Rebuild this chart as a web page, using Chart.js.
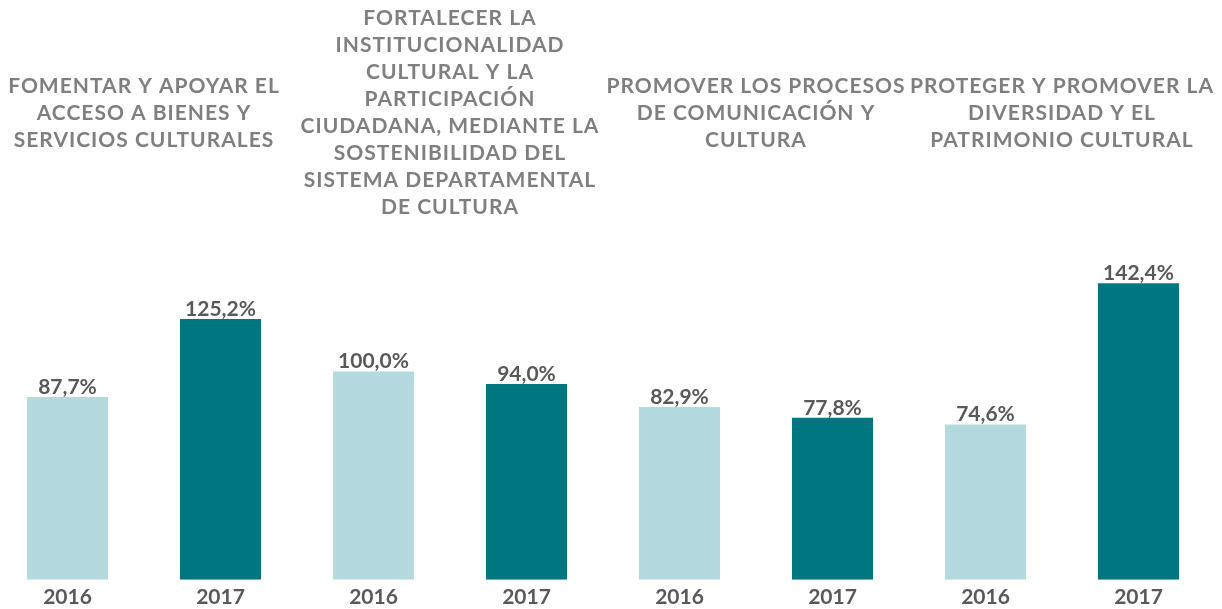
<!DOCTYPE html>
<html>
<head>
<meta charset="utf-8">
<script src="https://cdn.jsdelivr.net/npm/chart.js@4"></script>
<style>
  html, body { margin:0; padding:0; background:#fff; overflow:hidden; }
  #wrap { position:absolute; left:-9px; top:0; width:1224px; height:615px; }
</style>
</head>
<body>
<div id="wrap"><canvas id="chart1"></canvas></div>
<script>
const years = ['2016','2017','2016','2017','2016','2017','2016','2017'];
const values = [87.7, 125.2, 100.0, 94.0, 82.9, 77.8, 74.6, 142.4];
const colors = ['#b4d9de','#007681','#b4d9de','#007681','#b4d9de','#007681','#b4d9de','#007681'];
const groupTitles = [
  ['FOMENTAR Y APOYAR EL','ACCESO A BIENES Y','SERVICIOS CULTURALES'],
  ['FORTALECER LA','INSTITUCIONALIDAD','CULTURAL Y LA','PARTICIPACIÓN','CIUDADANA, MEDIANTE LA','SOSTENIBILIDAD DEL','SISTEMA DEPARTAMENTAL','DE CULTURA'],
  ['PROMOVER LOS PROCESOS','DE COMUNICACIÓN Y','CULTURA'],
  ['PROTEGER Y PROMOVER LA','DIVERSIDAD Y EL','PATRIMONIO CULTURAL']
];

const FONT = 'Lato';

// value labels on top of each bar
const valueLabels = {
  id: 'valueLabels',
  afterDatasetsDraw(chart){
    const ctx = chart.ctx;
    const meta = chart.getDatasetMeta(0);
    ctx.save();
    ctx.font = 'bold 21px ' + FONT;
    ctx.fillStyle = '#595959';
    ctx.textAlign = 'center';
    ctx.textBaseline = 'alphabetic';
    meta.data.forEach((bar,i)=>{
      const txt = values[i].toFixed(1).replace('.',',') + '%';
      ctx.fillText(txt, bar.x, bar.y - 3);
    });
    ctx.restore();
  }
};

// group headers centred over each pair of bars
const groupHeaders = {
  id: 'groupHeaders',
  afterDraw(chart){
    const ctx = chart.ctx;
    const x = chart.scales.x;
    ctx.save();
    ctx.font = 'bold 21px ' + FONT;
    ctx.letterSpacing = '1px';
    ctx.fillStyle = '#7f7f7f';
    ctx.textAlign = 'center';
    ctx.textBaseline = 'middle';
    const lh = 27;
    groupTitles.forEach((lines,g)=>{
      const cx = (x.getPixelForValue(g*2) + x.getPixelForValue(g*2+1)) / 2;
      const y0 = 113 - (lines.length-1)*lh/2;
      lines.forEach((l,j)=> ctx.fillText(l, cx, y0 + j*lh));
    });
    ctx.restore();
  }
};

new Chart(document.getElementById('chart1'), {
  type: 'bar',
  data: {
    labels: years,
    datasets: [{
      data: values,
      backgroundColor: colors,
      borderWidth: 0,
      categoryPercentage: 1,
      barPercentage: 0.53
    }]
  },
  options: {
    responsive: true,
    maintainAspectRatio: false,
    animation: false,
    layout: { padding: { top: 246.5, left: 0, right: 0, bottom: 0 } },
    plugins: { legend: { display: false }, tooltip: { enabled: false } },
    scales: {
      y: { display: false, min: 0, max: 160 },
      x: {
        grid: { display: false, drawTicks: false },
        border: { display: false },
        ticks: { color: '#595959', padding: 5, font: { family: FONT, size: 21, weight: 'bold' } }
      }
    }
  },
  plugins: [valueLabels, groupHeaders]
});
</script>
</body>
</html>
